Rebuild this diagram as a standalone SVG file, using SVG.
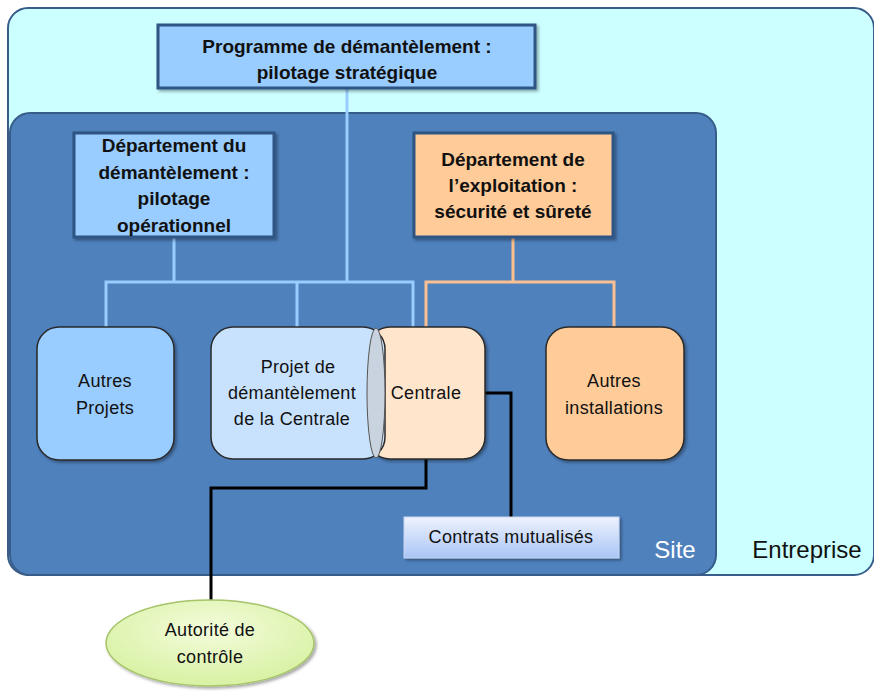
<svg xmlns="http://www.w3.org/2000/svg" width="874" height="691" viewBox="0 0 874 691">
<defs>
<linearGradient id="gContrat" x1="0" y1="0" x2="0" y2="1">
<stop offset="0" stop-color="#EEF2FD"/>
<stop offset="1" stop-color="#A9C5F7"/>
</linearGradient>
<radialGradient id="gAuth" cx="0.5" cy="0.35" r="0.6">
<stop offset="0" stop-color="#F4FCDC"/>
<stop offset="1" stop-color="#D9F2A6"/>
</radialGradient>
<filter id="sh" x="-10%" y="-10%" width="125%" height="130%">
<feDropShadow dx="2" dy="2" stdDeviation="1.5" flood-color="#000" flood-opacity="0.35"/>
</filter>
</defs>
<style>
text{font-family:"Liberation Sans",Arial,sans-serif;fill:#111;text-anchor:middle;dominant-baseline:central}
.b{font-weight:bold;font-size:19px}
.n{font-size:18px;letter-spacing:0.3px}
.dept{stroke:#2E5584;stroke-width:3}
.node{stroke:#2A2A2A;stroke-width:1.5}
.cb{fill:none;stroke:#99CCFF;stroke-width:3}
.co{fill:none;stroke:#FAC090;stroke-width:3}
.ck{fill:none;stroke:#000;stroke-width:3}
</style>

<g id="entreprise">
<rect x="8" y="8" width="866" height="567" rx="20" fill="#CCFFFF" stroke="#385D8A" stroke-width="2"/>
<text x="807" y="549" style="font-size:24px">Entreprise</text>
</g>

<g id="site">
<rect x="10" y="113" width="706" height="462" rx="20" fill="#4F81BD" stroke="#385D8A" stroke-width="2"/>
<text x="675" y="549" style="font-size:24px;fill:#fff">Site</text>
</g>

<g id="connectors">
<path class="cb" d="M347 88V282"/>
<path class="cb" d="M174 237V282"/>
<path class="cb" d="M106 327V282H413V327"/>
<path class="cb" d="M297 282V327"/>
<path class="co" d="M513 237V282"/>
<path class="co" d="M426 327V282H614V327"/>
<path class="ck" d="M426 459V488H211V600"/>
<path class="ck" d="M485 393H511V517"/>
</g>

<g id="programme">
<rect x="158" y="25" width="377" height="63" fill="#99CCFF" class="dept" filter="url(#sh)"/>
<text class="b" x="347" y="46">Programme de démantèlement :</text>
<text class="b" x="347" y="72">pilotage stratégique</text>
</g>

<g id="dept-demantelement">
<rect x="74" y="133" width="200" height="104" fill="#99CCFF" class="dept" filter="url(#sh)"/>
<text class="b" x="174" y="145">Département du</text>
<text class="b" x="174" y="172">démantèlement :</text>
<text class="b" x="174" y="198">pilotage</text>
<text class="b" x="174" y="225">opérationnel</text>
</g>

<g id="dept-exploitation">
<rect x="414" y="133" width="199" height="104" fill="#FFCC99" class="dept" filter="url(#sh)"/>
<text class="b" x="513" y="159">Département de</text>
<text class="b" x="513" y="185">l’exploitation :</text>
<text class="b" x="513" y="211">sécurité et sûreté</text>
</g>

<g id="autres-projets">
<rect x="37" y="327" width="137" height="133" rx="22" fill="#99CCFF" class="node" filter="url(#sh)"/>
<text class="n" x="105" y="381">Autres</text>
<text class="n" x="105" y="408">Projets</text>
</g>

<g id="centrale">
<rect x="368" y="327" width="117" height="132" rx="22" fill="#FFE5CC" class="node" filter="url(#sh)"/>
<text class="n" x="426" y="393">Centrale</text>
</g>

<g id="projet">
<rect x="211" y="327" width="174" height="132" rx="22" fill="#CCE5FF" fill-opacity="0.97" class="node"/>
<ellipse cx="376" cy="393" rx="9" ry="65" fill="#C8D3DF" stroke="#555" stroke-width="1"/>
<text class="n" x="298" y="367">Projet de</text>
<text class="n" x="292" y="393">démantèlement</text>
<text class="n" x="292" y="419">de la Centrale</text>
</g>

<g id="autres-installations">
<rect x="546" y="327" width="138" height="133" rx="22" fill="#FFCC99" class="node" filter="url(#sh)"/>
<text class="n" x="614" y="381">Autres</text>
<text class="n" x="614" y="408">installations</text>
</g>

<g id="contrats">
<rect x="404" y="517" width="215" height="41" fill="url(#gContrat)" stroke="#C9D6EE" stroke-width="1" filter="url(#sh)"/>
<text class="n" x="511" y="537">Contrats mutualisés</text>
</g>

<g id="autorite">
<ellipse cx="210" cy="643" rx="104" ry="43" fill="url(#gAuth)" stroke="#A6C46A" stroke-width="1.5" filter="url(#sh)"/>
<text class="n" x="210" y="630">Autorité de</text>
<text class="n" x="210" y="657">contrôle</text>
</g>
</svg>
